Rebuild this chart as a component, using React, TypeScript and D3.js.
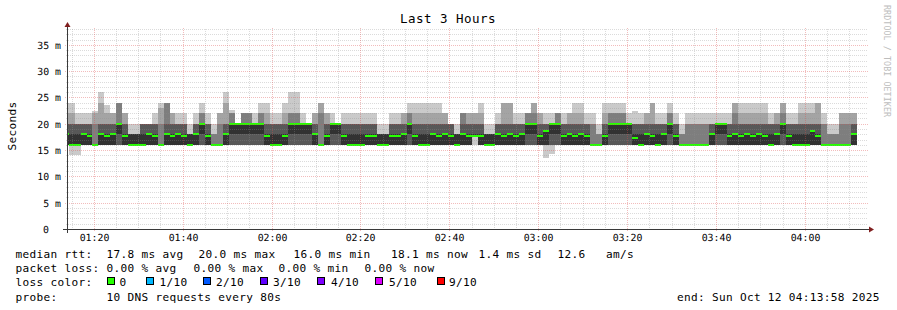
import React from "react";
import * as d3 from "d3";

// ---------------- data ----------------
const startTime = new Date(2025, 9, 12, 1, 13, 58);
const endTime = new Date(2025, 9, 12, 4, 13, 58);
const firstStepEnd = new Date(2025, 9, 12, 1, 14, 22);
const stepSeconds = 80;

// median rtt per 80 s step (ms)
const median = [
  18,16,16,18,17.6,16,18,17.7,18,20,
  17.7,16,16,16,18,17.6,16,18,17.6,18,
  17.6,16,18,20,17.7,16,16,18,20,20,
  20,20,20,20,17.7,16,16,17.7,20,20,
  20,20,18,16,17.7,20,20,17.7,16,16,
  16,17.7,17.7,16,16,17.7,17.7,18,20,17.7,
  16,16,18,17.6,18,17.7,16,18,17.7,17.7,
  17.7,16,16,18,17.6,18,17.6,18,20,20,
  17.6,18.6,20,20,17.6,18,17.7,18,17.7,16,
  16,17.7,20,20,20,20,17.2,16,18,17.6,
  16,18,20,17.6,16,16,16,16,16,18,
  20,20,17.7,18,17.6,18,17.7,18,17.6,16,
  18,20,17.7,16,16,16,18.6,17.7,16,16,
  16,16,16,18,
];

// sorted ping times (ms), rank 1 (fastest) .. rank 10 (slowest)
const ping1 = [
  16,14,14,16,16,16,16,16,16,16,
  16,16,16,16,16,16,16,16,16,16,
  16,16,16,16,16,16,16,16,16,16,
  16,16,16,16,16,16,16,16,16,16,
  16,16,16,16,16,16,16,16,16,16,
  16,16,16,16,16,16,16,16,16,16,
  16,16,16,16,16,16,16,16,16,16,
  16,16,16,16,16,16,16,16,16,16,
  16,13.4,14.2,16,16,16,16,16,16,16,
  16,16,16,16,16,16,16,16,16,16,
  16,16,16,16,16,16,16,16,16,16,
  16,16,16,16,16,16,16,16,16,16,
  16,16,16,16,16,16,16,16,16,16,
  16,16,16,16,
];
const ping2 = [
  16,16,16,16,16,16,16,16,16,16,
  16,16,16,16,16,16,16,16,16,16,
  16,16,16,16,16,16,16,16,16,16,
  16,16,16,16,16,16,16,16,16,16,
  16,16,16,16,16,16,16,16,16,16,
  16,16,16,16,16,16,16,16,16,16,
  16,16,16,16,16,16,16,16,16,17.7,
  16,16,16,16,16,16,16,16,16,16,
  16,16,16,16,16,16,16,16,16,16,
  16,16,16,16,16,16,16,16,16,16,
  16,16,16,16,16,16,16,16,16,16,
  16,16,16,16,16,16,16,16,16,16,
  16,16,16,16,16,16,16,16,16,16,
  16,16,16,16,
];
const ping3 = ping2.slice();
const ping4 = ping2.slice();
const ping5 = [
  16,16,16,16,16,16,16,16,16,18,
  16,16,16,16,16,16,16,16,16,16,
  16,16,16,18,16,16,16,16,18,18,
  18,18,18,18,16,16,16,16,18,18,
  18,18,16,16,16,18,18,16,16,16,
  16,16,16,16,16,16,16,16,18,16,
  16,16,16,16,16,16,16,16,16,17.7,
  16,16,16,16,16,16,16,16,18,18,
  16,16,18,18,16,16,16,16,16,16,
  16,16,18,18,18,18,16,16,16,16,
  16,16,18,16,16,16,16,16,16,16,
  18,18,16,16,16,16,16,16,16,16,
  16,18,16,16,16,16,16,16,16,16,
  16,16,16,16,
];
const ping6 = [
  18,18,18,18,18,16,18,18,18,20,
  18,18,18,18,18,18,16,18,18,18,
  18,18,18,20,18,16,16,18,20,20,
  20,20,20,20,18,18,18,18,20,20,
  20,20,18,16,18,20,20,18,18,18,
  18,18,18,18,18,18,18,18,20,18,
  18,18,18,18,18,18,18,18,18,18,
  18,18,18,18,18,18,18,18,20,20,
  18,18.6,20,20,18,18,18,18,18,16,
  16,18,20,20,20,20,18,18,18,18,
  18,18,20,18,16,16,16,16,16,18,
  20,20,18,18,18,18,18,18,18,18,
  18,20,18,18,18,18,18.6,18,16,16,
  16,16,16,18,
];
const ping7 = [
  20,20,20,20,20,16,20,20,20,20,
  20,18,18,20,20,20,16,20,20,20,
  20,18,20,20,20,16,16,20,20,20,
  20,20,20,20,20,20,20,20,20,20,
  20,20,20,16,20,20,20,20,20,20,
  20,20,20,18,18,20,20,20,20,20,
  20,20,20,20,20,20,18,20,20,20,
  20,18,18,20,20,20,20,20,20,20,
  20,20,20,20,20,20,20,20,20,16,
  16,20,20,20,20,20,20,20,20,20,
  20,20,20,20,16,16,16,16,16,20,
  20,20,20,20,20,20,20,20,20,20,
  20,20,20,20,20,20,20,20,16,16,
  16,16,16,20,
];
const ping8 = [
  20,20,20,20,20,20,20,20,20,24,
  20,18,18,20,20,20,20,24,20,20,
  20,18,20,22,20,18,20,20,22,20,
  22,22,20,22,20,20,20,20,22,22,
  20,20,20,22,20,20,20,20,20,20,
  20,20,20,18,18,20,20,20,22,20,
  20,20,20,20,20,20,18,22,20,20,
  20,18,18,20,20,20,20,20,22,22,
  20,20,20,22,20,20,20,20,20,20,
  18,20,22,22,22,20,20,20,20,20,
  20,20,22,20,18,20,20,20,20,20,
  20,20,20,22,20,20,20,20,20,20,
  20,22,20,20,20,20,20,20,20,18,
  18,20,20,20,
];
const ping9 = [
  22,22,20,20,20,22,24,22,22,24,
  22,18,18,20,20,20,23,24,22,20,
  20,18,20,22,20,18,22,24,22,20,
  22,22,20,22,22,20,20,22,22,22,
  20,20,22,24,22,20,20,20,20,20,
  20,20,20,18,18,20,20,22,22,22,
  22,22,22,22,22,20,18,22,22,22,
  22,18,18,20,24,24,20,20,22,24,
  22,20,20,22,20,22,22,22,20,20,
  18,22,22,22,22,20,20,20,22,24,
  20,20,22,20,18,20,20,20,20,20,
  20,20,20,24,22,22,22,22,22,20,
  22,24,20,20,22,22,22,24,20,18,
  18,22,22,22,
];
const ping10 = [
  24,24,22,22,22,22.5,26,23.6,22,24,
  22,20,20,20,20,22,24,24,22,22,
  22,20,22,24,22,20,22,26,22.6,20,
  22,22,22,24,24,22,22,24,26,26,
  22,20,22,24,22,22,20,22,22,22,
  22,22,22,20,20,22,22,22,24,24,
  24,24,24,24,22,20,20,22,22,22,
  24,20,20,22,24,24,22,22,22,24,
  22,22,22,22,22,22,24,24,22,22,
  20,24,24,24,24,22,22.5,22,22,24,
  22,22,24,22,20,22,22,22,22,22,
  22,22,22,24,24,24,24,24,24,22,
  22,24,22,22,24,24,24,24,22,20,
  20,22,22,22,
];

const yTickValues = [0, 5, 10, 15, 20, 25, 30, 35];
const yTickLabels = ["0", "5 m", "10 m", "15 m", "20 m", "25 m", "30 m", "35 m"];

const medianStats = ["17.8 ms avg", "20.0 ms max", "16.0 ms min", "18.1 ms now", "1.4 ms sd", "12.6", "am/s"];
const medianStatX = [107, 199, 294, 391.5, 479, 558, 606.5];
const lossStats = ["0.00 % avg", "0.00 % max", "0.00 % min", "0.00 % now"];
const lossStatX = [107, 194, 279, 365];
const lossLabels = ["0", "1/10", "2/10", "3/10", "4/10", "5/10", "9/10"];
const lossColors = ["#26ff00", "#00b8ff", "#0059ff", "#5e00ff", "#7e00ff", "#dd00ff", "#ff0000"];
const lossBoxX = [107.5, 146, 203, 260.5, 317.5, 375.5, 437];
const lossLabelX = [119.5, 159.5, 216, 273, 331, 389, 449];
const smokeColors = ["#cacaca", "#a4a4a4", "#7e7e7e", "#585858", "#323232"];

// ---------------- layout ----------------
const W = 897, H = 310;
const X0 = 67, X1 = 867, Y0 = 229, Y1 = 29;
const MONO = "'DejaVu Sans Mono', monospace";

export default function App() {
  const x = d3.scaleTime().domain([startTime, endTime]).range([X0, X1]);
  const y = d3.scaleLinear().domain([0, 38]).range([Y0, Y1]);
  const pings = [ping1, ping2, ping3, ping4, ping5, ping6, ping7, ping8, ping9, ping10];

  const steps = median.map((m, k) => {
    const tEnd = new Date(firstStepEnd.getTime() + k * stepSeconds * 1000);
    const tStart = new Date(tEnd.getTime() - stepSeconds * 1000);
    const xa = Math.max(X0, Math.round(x(tStart)));
    const xb = Math.min(X1, Math.round(x(tEnd)));
    return { k, xa, xb, m };
  });

  const py = (v: number) => Math.round(y(v));

  const bands: JSX.Element[] = [];
  for (let i = 0; i < 5; i++) {
    const lo = pings[i], hi = pings[9 - i];
    steps.forEach(s => {
      if (hi[s.k] > lo[s.k]) {
        bands.push(
          <rect key={`b${i}-${s.k}`} x={s.xa} width={s.xb - s.xa}
            y={py(hi[s.k])} height={py(lo[s.k]) - py(hi[s.k])} fill={smokeColors[i]} />
        );
      }
    });
  }

  const minorY = d3.range(1, 39).filter(v => v % 5 !== 0);
  const majorY = yTickValues.filter(v => v > 0);
  const minorX = d3.timeMinute.every(5)!.range(startTime, endTime).filter(t => t.getMinutes() % 20 !== 0);
  const majorX = d3.timeMinute.every(20)!.range(startTime, endTime);
  const fmt = d3.timeFormat("%H:%M");

  const gridMinor = "rgba(143,143,143,0.32)";
  const gridMajor = "rgba(222,79,79,0.38)";

  return (
    <svg width={W} height={H} style={{ position: "absolute", left: 0, top: 0 }}
      xmlns="http://www.w3.org/2000/svg">
      <rect x={0} y={0} width={W} height={H} fill="#ffffff" />
      <g shapeRendering="crispEdges">{bands}</g>
      <g shapeRendering="crispEdges">
        {steps.map(s => (
          <rect key={`m${s.k}`} x={s.xa} width={s.xb - s.xa} y={y(s.m) - 1} height={2} fill={lossColors[0]} />
        ))}
      </g>
      {/* grid */}
      <g shapeRendering="crispEdges" strokeDasharray="1 1">
        {minorY.map(v => (
          <line key={`hy${v}`} x1={X0 - 1} x2={X1 + 1} y1={py(v) + 0.5} y2={py(v) + 0.5} stroke={gridMinor} />
        ))}
        {minorX.map((t, i) => (
          <line key={`vx${i}`} y1={Y0 + 1} y2={Y1 - 1} x1={Math.round(x(t)) + 0.5} x2={Math.round(x(t)) + 0.5} stroke={gridMinor} />
        ))}
        {majorY.map(v => (
          <line key={`My${v}`} x1={X0 - 2} x2={X1 + 2} y1={py(v) + 0.5} y2={py(v) + 0.5} stroke={gridMajor} />
        ))}
        {majorX.map((t, i) => (
          <line key={`Mx${i}`} y1={Y0 + 2} y2={Y1 - 2} x1={Math.round(x(t)) + 0.5} x2={Math.round(x(t)) + 0.5} stroke={gridMajor} />
        ))}
      </g>
      {/* axes */}
      <g shapeRendering="crispEdges">
        <line x1={X0 - 4} x2={X1 + 4} y1={Y0 + 0.5} y2={Y0 + 0.5} stroke="#3a3a3a" />
        <line x1={X0 + 0.5} x2={X0 + 0.5} y1={Y0 + 4} y2={Y1 - 4} stroke="#3a3a3a" />
      </g>
      <path d={`M${X1 + 2},${Y0 - 2.5} L${X1 + 2},${Y0 + 3.5} L${X1 + 7},${Y0 + 0.5} Z`} fill="#801f1f" />
      <path d={`M${X0 - 2.5},${Y1 - 2} L${X0 + 3.5},${Y1 - 2} L${X0 + 0.5},${Y1 - 7} Z`} fill="#801f1f" />
      {/* tick labels */}
      <g fontFamily={MONO} fontSize={9.9} fill="#000" textRendering="geometricPrecision"
        style={{ WebkitFontSmoothing: "antialiased" } as any}>
        {yTickValues.map((v, i) => (
          <text key={`yl${v}`} x={v === 0 ? 49 : 61} y={py(v) + 3.5} textAnchor="end">{yTickLabels[i]}</text>
        ))}
        {majorX.map((t, i) => (
          <text key={`xl${i}`} x={Math.round(x(t)) + 0.5} y={241} textAnchor="middle">{fmt(t)}</text>
        ))}
      </g>
      {/* title & labels */}
      <text x={448} y={23} textAnchor="middle" fontFamily={MONO} fontSize={12.5} letterSpacing={0.47} fill="#000">Last 3 Hours</text>
      <text transform="translate(15.5,126) rotate(-90)" textAnchor="middle" fontFamily={MONO} fontSize={11.1} letterSpacing={0.31} fill="#000">Seconds</text>
      <text transform="translate(884,5) rotate(90)" textAnchor="start" fontFamily={MONO} fontSize={8.3} letterSpacing={0.1} fill="#bdbdbd">RRDTOOL / TOBI OETIKER</text>
      {/* legend */}
      <g fontFamily={MONO} fontSize={11.1} letterSpacing={0.31} fill="#000">
        <text x={15.5} y={258}>median rtt:</text>
        {medianStats.map((s, i) => <text key={`ms${i}`} x={medianStatX[i] - 0.5} y={258}>{s}</text>)}
        <text x={15.5} y={272.3}>packet loss:</text>
        {lossStats.map((s, i) => <text key={`ls${i}`} x={lossStatX[i] - 0.5} y={272.3}>{s}</text>)}
        <text x={15.5} y={286}>loss color:</text>
        {lossLabels.map((s, i) => <text key={`ll${i}`} x={lossLabelX[i]} y={286}>{s}</text>)}
        <text x={15.5} y={300.5}>probe:</text>
        <text x={106.5} y={300.5}>10 DNS requests every 80s</text>
        <text x={677} y={300.5}>end: Sun Oct 12 04:13:58 2025</text>
      </g>
      <g shapeRendering="crispEdges">
        {lossColors.map((c, i) => (
          <rect key={`lb${i}`} x={lossBoxX[i]} y={277.5} width={7} height={7} fill={c} stroke="#000" strokeWidth={1} />
        ))}
      </g>
    </svg>
  );
}
